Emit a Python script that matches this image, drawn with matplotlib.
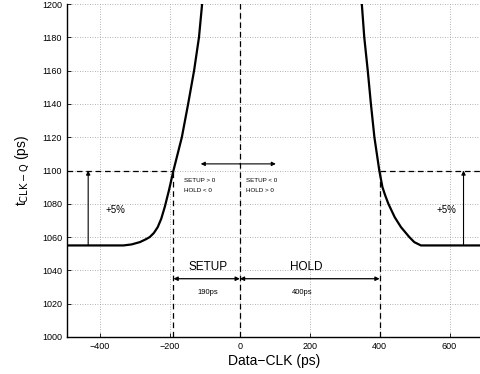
import matplotlib
matplotlib.use("Agg")
import matplotlib.pyplot as plt

plt.rcParams["font.family"] = ["Liberation Sans", "DejaVu Sans"]

# curve (Data-CLK in ps, tCLK-Q in ps)
left_x = [-495, -333, -310, -286, -270, -258, -246, -235, -225, -215, -203, -190,
          -178, -166, -148, -131, -117, -108, -105]
left_y = [1055, 1055, 1055.6, 1057, 1058.6, 1060, 1062.5, 1066, 1071, 1078, 1088, 1100,
          1110, 1120, 1140, 1160, 1180, 1200, 1206]
right_x = [347, 349, 356, 366, 375, 385, 392, 399, 408, 416, 425, 443, 461, 485,
           499, 518, 690]
right_y = [1206, 1200, 1180, 1160, 1140, 1120, 1110, 1100, 1090, 1085, 1080, 1072,
           1066, 1060, 1057, 1055, 1055]

base_delay = 1055
limit_delay = 1100
setup_edge = -190
hold_edge = 400

xticks = [-400, -200, 0, 200, 400, 600]
yticks = list(range(1000, 1201, 20))

fig = plt.figure(figsize=(4.81, 3.74), dpi=100)
ax = fig.add_axes([0.139, 0.099, 0.861, 0.890])

ax.plot(left_x, left_y, "k-", linewidth=1.6, solid_joinstyle="round")
ax.plot(right_x, right_y, "k-", linewidth=1.6, solid_joinstyle="round")

dash = dict(color="k", linestyle=(0, (4.5, 3)), linewidth=0.9)
ax.plot([-495, setup_edge], [limit_delay, limit_delay], **dash)
ax.plot([hold_edge, 690], [limit_delay, limit_delay], **dash)
ax.plot([setup_edge, setup_edge], [1000, limit_delay], **dash)
ax.plot([hold_edge, hold_edge], [1000, limit_delay], **dash)
ax.plot([0, 0], [1000, 1210], **dash)

arrow = dict(arrowstyle="-|>", color="k", linewidth=0.8, mutation_scale=6,
             shrinkA=0, shrinkB=0)
# +5% arrows
ax.annotate("", xy=(-434, limit_delay), xytext=(-434, base_delay), arrowprops=arrow)
ax.annotate("", xy=(640, limit_delay), xytext=(640, base_delay), arrowprops=arrow)
ax.text(-385, 1076, "+5%", fontsize=7, ha="left", va="center")
ax.text(590, 1076, "+5%", fontsize=7, ha="center", va="center")

# region arrows near the top
ax.annotate("", xy=(-112, 1104), xytext=(0, 1104), arrowprops=arrow)
ax.annotate("", xy=(103, 1104), xytext=(0, 1104), arrowprops=arrow)
ax.text(-160, 1094, "SETUP > 0", fontsize=4.5, ha="left", va="center")
ax.text(-160, 1088, "HOLD < 0", fontsize=4.5, ha="left", va="center")
ax.text(18, 1094, "SETUP < 0", fontsize=4.5, ha="left", va="center")
ax.text(18, 1088, "HOLD > 0", fontsize=4.5, ha="left", va="center")

# setup / hold windows
both = dict(arrowstyle="<|-|>", color="k", linewidth=0.9, mutation_scale=6,
            shrinkA=0, shrinkB=0)
ax.annotate("", xy=(setup_edge, 1035), xytext=(0, 1035), arrowprops=both)
ax.annotate("", xy=(0, 1035), xytext=(hold_edge, 1035), arrowprops=both)
ax.text(-92, 1042, "SETUP", fontsize=8.5, ha="center", va="center")
ax.text(190, 1042, "HOLD", fontsize=8.5, ha="center", va="center")
ax.text(-92, 1027, "190ps", fontsize=5.5, ha="center", va="center")
ax.text(178, 1027, "400ps", fontsize=5.5, ha="center", va="center")

ax.set_xlim(-495, 690)
ax.set_ylim(1000, 1200)
ax.set_xticks(xticks)
ax.set_yticks(yticks)
ax.tick_params(direction="in", labelsize=6.5, length=3, width=0.6)
ax.grid(True, color="#999999", linestyle=(0, (1, 2)), linewidth=0.6)
for side in ["top", "right"]:
    ax.spines[side].set_visible(False)
for side in ["left", "bottom"]:
    ax.spines[side].set_linewidth(1.0)

ax.set_xlabel("Data\u2212CLK (ps)", fontsize=10, labelpad=2)
ax.set_ylabel(r"t$_{\mathrm{CLK-Q}}$ (ps)", fontsize=10, labelpad=8)

fig.savefig("out.png", dpi=100)
